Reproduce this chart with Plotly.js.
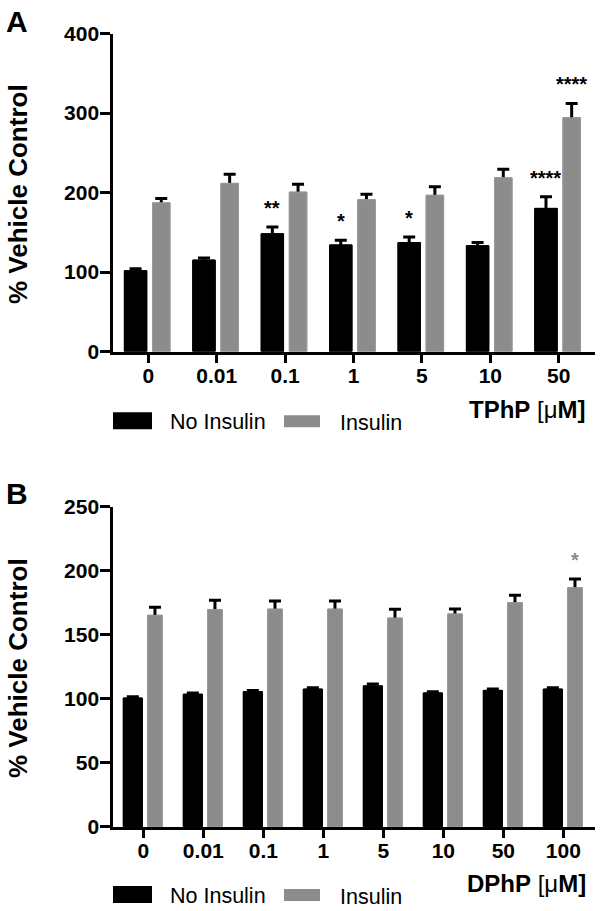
<!DOCTYPE html>
<html>
<head>
<meta charset="utf-8">
<script src="https://cdn.plot.ly/plotly-3.0.1.min.js"></script>
<style>html,body{margin:0;padding:0;background:#fff;}#chart{width:600px;height:911px;}</style>
</head>
<body>
<div id="chart"></div>
<script>
// ---------- data ----------
const catsA = ['0', '0.01', '0.1', '1', '5', '10', '50'];
const noInsulinA = [101.5, 115, 148, 134, 137, 133, 180];
const noInsulinErrA = [2.5, 2.5, 8.5, 6, 7, 4, 14.5];
const insulinA = [187, 211.5, 200.5, 191, 196.5, 218.5, 294];
const insulinErrA = [5.5, 11.5, 10, 6.7, 10.8, 10.6, 18];
const sigNoInsulinA = ['', '', '**', '*', '*', '', '****'];
const sigInsulinA = ['', '', '', '', '', '', '****'];

const catsB = ['0', '0.01', '0.1', '1', '5', '10', '50', '100'];
const noInsulinB = [100.5, 103.5, 105.5, 107.5, 110, 104.5, 106.5, 107.5];
const noInsulinErrB = [1, 1, 1, 1, 1.5, 1, 1, 1];
const insulinB = [165.2, 169.6, 170, 170, 163, 166.2, 175, 186.7];
const insulinErrB = [6.2, 7.3, 6.3, 6.3, 6.8, 3.8, 5.8, 6.8];
const sigNoInsulinB = ['', '', '', '', '', '', '', ''];
const sigInsulinB = ['', '', '', '', '', '', '', '*'];

const seriesNames = ['No Insulin', 'Insulin'];
const yTitle = '% Vehicle Control';

// ---------- style ----------
const W = 600, H = 911;
const px = v => v / W;
const py = v => 1 - v / H;
const FONT = 'Liberation Sans, Arial, Helvetica, sans-serif';
const BLACK = '#000000';
const GRAY = '#8c8c8c';

const idx = arr => arr.map((_, i) => i);

function barTrace(cats, vals, errs, color, offset, width, xa, ya, withErr) {
  const t = {
    type: 'bar', x: idx(cats), y: vals, xaxis: xa, yaxis: ya,
    offset: offset, width: width,
    marker: {color: color, line: {color: color === BLACK ? BLACK : '#989898', width: 1}},
    showlegend: false, hoverinfo: 'skip'
  };
  if (withErr) {
    t.error_y = {type: 'data', array: errs, symmetric: true,
      color: BLACK, thickness: 3, width: 6};
  }
  return t;
}

const offA = {black: -0.35, blackW: 0.327, gray: 0.061, grayW: 0.256};
const offB = {black: -0.333, blackW: 0.317, gray: 0.073, grayW: 0.243};

// bars with error bars, then plain copies on top so only the upper half of each error bar shows
const data = [
  barTrace(catsA, noInsulinA, noInsulinErrA, BLACK, offA.black, offA.blackW, 'x', 'y', true),
  barTrace(catsA, insulinA, insulinErrA, GRAY, offA.gray, offA.grayW, 'x', 'y', true),
  barTrace(catsA, noInsulinA, noInsulinErrA, BLACK, offA.black, offA.blackW, 'x', 'y', false),
  barTrace(catsA, insulinA, insulinErrA, GRAY, offA.gray, offA.grayW, 'x', 'y', false),
  barTrace(catsB, noInsulinB, noInsulinErrB, BLACK, offB.black, offB.blackW, 'x2', 'y2', true),
  barTrace(catsB, insulinB, insulinErrB, GRAY, offB.gray, offB.grayW, 'x2', 'y2', true),
  barTrace(catsB, noInsulinB, noInsulinErrB, BLACK, offB.black, offB.blackW, 'x2', 'y2', false),
  barTrace(catsB, insulinB, insulinErrB, GRAY, offB.gray, offB.grayW, 'x2', 'y2', false)
];

const annotations = [];
function stars(sig, vals, errs, offset, width, xref, yref, color) {
  sig.forEach((s, i) => {
    if (!s) return;
    annotations.push({
      text: '<b>' + s + '</b>', x: i + offset + width / 2, y: vals[i] + errs[i], xref: xref, yref: yref,
      xanchor: 'center', yanchor: 'bottom', yshift: 6, showarrow: false,
      font: {family: FONT, size: 20, color: color}
    });
  });
}
stars(sigNoInsulinA, noInsulinA, noInsulinErrA, offA.black, offA.blackW, 'x', 'y', BLACK);
stars(sigInsulinA, insulinA, insulinErrA, offA.gray, offA.grayW, 'x', 'y', BLACK);
stars(sigNoInsulinB, noInsulinB, noInsulinErrB, offB.black, offB.blackW, 'x2', 'y2', BLACK);
stars(sigInsulinB, insulinB, insulinErrB, offB.gray, offB.grayW, 'x2', 'y2', GRAY);

function paperText(text, x, y, xanchor, yanchor, size, opts) {
  annotations.push(Object.assign({
    text: text, x: px(x), y: py(y), xref: 'paper', yref: 'paper',
    xanchor: xanchor, yanchor: yanchor, showarrow: false,
    font: {family: FONT, size: size, color: BLACK}
  }, opts || {}));
}

// panel letters
paperText('<b>A</b>', 4, 3, 'left', 'top', 30);
paperText('<b>B</b>', 4, 475, 'left', 'top', 30);
// y titles
paperText('<b>' + yTitle + '</b>', 18, 194, 'center', 'middle', 26, {textangle: -90});
paperText('<b>' + yTitle + '</b>', 18, 668, 'center', 'middle', 26, {textangle: -90});
// x titles
paperText('<b>TPhP</b> [\u03BC<b>M]</b>', 588, 409, 'right', 'middle', 24);
paperText('<b>DPhP</b> [\u03BC<b>M]</b>', 588, 883, 'right', 'middle', 24);

const shapes = [];
function legend(yc) {
  shapes.push({type: 'rect', xref: 'paper', yref: 'paper', x0: px(113), x1: px(152),
    y0: py(yc - 8.5), y1: py(yc + 8.5), fillcolor: BLACK, line: {width: 0}});
  shapes.push({type: 'rect', xref: 'paper', yref: 'paper', x0: px(284), x1: px(320),
    y0: py(yc - 5.5), y1: py(yc + 6.5), fillcolor: GRAY, line: {width: 0}});
  paperText(seriesNames[0], 168, yc + 1, 'left', 'middle', 21.5);
  paperText(seriesNames[1], 338, yc + 2, 'left', 'middle', 21.5);
}
legend(420.7);
legend(894.5);

const yAxisBase = {
  showgrid: false, zeroline: false, showline: true, linecolor: BLACK, linewidth: 3,
  ticks: 'outside', ticklen: 10, tickwidth: 3, tickcolor: BLACK,
  ticklabelstandoff: -3,
  tickfont: {family: FONT, size: 21, color: BLACK, weight: 'bold'},
  fixedrange: true
};
const xAxisBase = {
  showgrid: false, zeroline: false, showline: true, linecolor: BLACK, linewidth: 3,
  ticks: 'outside', ticklen: 8, tickwidth: 3, tickcolor: BLACK,
  ticklabelstandoff: -5,
  tickfont: {family: FONT, size: 21, color: BLACK, weight: 'bold'},
  fixedrange: true, type: 'linear'
};

const layout = {
  width: W, height: H,
  margin: {l: 0, r: 0, t: 0, b: 0},
  paper_bgcolor: '#ffffff', plot_bgcolor: '#ffffff',
  font: {family: FONT, color: BLACK},
  barmode: 'overlay',
  showlegend: false,
  xaxis: Object.assign({}, xAxisBase, {domain: [px(113.3), px(595)], anchor: 'y',
    range: [-0.512, 6.530], tickvals: idx(catsA), ticktext: catsA}),
  yaxis: Object.assign({}, yAxisBase, {domain: [py(351.5), py(33.5)], anchor: 'x',
    range: [0, 400], tickvals: [0, 100, 200, 300, 400]}),
  xaxis2: Object.assign({}, xAxisBase, {domain: [px(113.3), px(595)], anchor: 'y2',
    range: [-0.5, 7.528], tickvals: idx(catsB), ticktext: catsB}),
  yaxis2: Object.assign({}, yAxisBase, {domain: [py(826.7), py(506.7)], anchor: 'x2',
    range: [0, 250], tickvals: [0, 50, 100, 150, 200, 250]}),
  annotations: annotations,
  shapes: shapes
};

Plotly.newPlot('chart', data, layout, {displayModeBar: false, staticPlot: true});
</script>
</body>
</html>
